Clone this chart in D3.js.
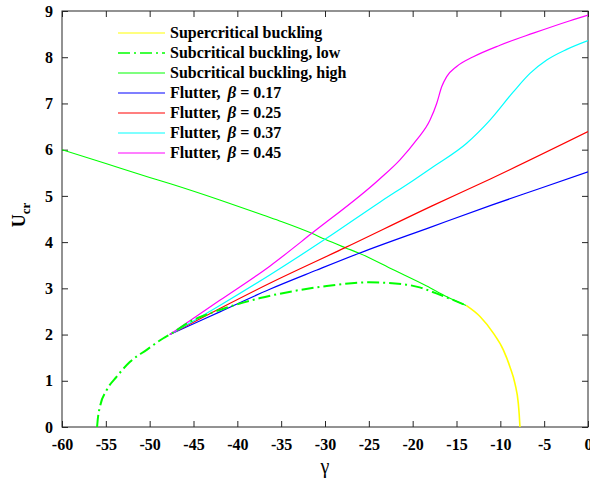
<!DOCTYPE html>
<html>
<head>
<meta charset="utf-8">
<script src="https://cdn.jsdelivr.net/npm/d3@7"></script>
<style>
    body { margin: 0; background: #fff; }
    svg text { font-family: 'Liberation Serif', 'Times New Roman', serif; font-weight: bold; fill: #000; }
    .axis path { display: none; }
    .axis line { stroke: #262626; }
</style>
</head>
<body>
<div id="chart"></div>
<script>
// gamma / U_cr pairs
let gamma_sup = [-13.9, -12.32, -10.8, -9.66, -8.9, -8.33, -7.95, -7.85, -7.76];
let u_sup     = [2.63, 2.39, 2.03, 1.67, 1.30, 0.94, 0.51, 0.28, 0];

let gamma_low = [-56, -55.9, -55.67, -54.9, -53.76, -52.24, -50.34, -48.44, -47.7, -45.4, -43.1, -40.1, -37.4, -33.6, -29.8, -25, -21.1, -19.2, -17.3, -15.4, -13.9];
let u_low     = [0, 0.2, 0.44, 0.80, 1.09, 1.41, 1.67, 1.92, 2.0, 2.28, 2.46, 2.65, 2.79, 2.94, 3.05, 3.13, 3.09, 3.02, 2.89, 2.75, 2.63];

let gamma_high = [-60, -55, -50, -47.45, -42, -37, -34.9, -31.5, -30, -27.7, -26.1, -22.2, -18.4, -16.1, -13.9];
let u_high     = [6.0, 5.70, 5.40, 5.25, 4.91, 4.58, 4.44, 4.19, 4.06, 3.88, 3.76, 3.40, 3.05, 2.82, 2.63];

let gamma_017 = [-47.7, -42, -36.3, -31, -26.1, -18, -11, -5.5, 0];
let u_017     = [2.0, 2.49, 2.98, 3.39, 3.76, 4.32, 4.80, 5.16, 5.52];

let gamma_025 = [-47.7, -36.3, -27.7, -17.6, -11.2, 0];
let u_025     = [2.0, 3.11, 3.88, 4.80, 5.36, 6.39];

let gamma_037 = [-47.7, -42, -36.3, -30, -23.7, -19.9, -17.65, -13.84, -11.18, -8.52, -6.62, -4.71, -2.43, 0];
let u_037     = [2.0, 2.63, 3.29, 4.06, 4.87, 5.34, 5.63, 6.14, 6.64, 7.25, 7.65, 7.94, 8.17, 8.36];

let gamma_045 = [-47.7, -42, -36.3, -31.5, -23.8, -21.45, -19.55, -18.02, -17.26, -16.69, -16.12, -14.98, -13.08, -10.04, -6.24, -2.05, 0];
let u_045     = [2.0, 2.74, 3.48, 4.19, 5.36, 5.78, 6.21, 6.64, 7.0, 7.36, 7.58, 7.80, 8.01, 8.26, 8.52, 8.79, 8.91];

let x_ticks = [-60, -55, -50, -45, -40, -35, -30, -25, -20, -15, -10, -5, 0];
let y_ticks = [0, 1, 2, 3, 4, 5, 6, 7, 8, 9];

let series = [
    {label: 'Supercritical buckling', color: '#ffff00', g: gamma_sup, u: u_sup, width: 1.6, dash: null},
    {label: 'Subcritical buckling, low', color: '#00ff00', g: gamma_low, u: u_low, width: 2, dash: '12,4,2,4'},
    {label: 'Subcritical buckling, high', color: '#00ff00', g: gamma_high, u: u_high, width: 1.1, dash: null},
    {label: 'Flutter,', beta: '0.17', color: '#0000ff', g: gamma_017, u: u_017, width: 1.2, dash: null},
    {label: 'Flutter,', beta: '0.25', color: '#ff0000', g: gamma_025, u: u_025, width: 1.2, dash: null},
    {label: 'Flutter,', beta: '0.37', color: '#00ffff', g: gamma_037, u: u_037, width: 1.2, dash: null},
    {label: 'Flutter,', beta: '0.45', color: '#ff00ff', g: gamma_045, u: u_045, width: 1.2, dash: null}
];

let serif = "'Liberation Serif', 'Times New Roman', serif";

let margin = {top: 11, right: 2, bottom: 56, left: 62},
    width = 590 - margin.left - margin.right,
    height = 483 - margin.top - margin.bottom;

let svg = d3.select('#chart').append('svg')
    .attr('width', 590)
    .attr('height', 483)
    .attr('font-family', serif)
    .append('g')
        .attr('transform', 'translate(' + margin.left + ',' + margin.top + ')');

let x = d3.scaleLinear().domain([-60, 0]).range([0, width]);
let y = d3.scaleLinear().domain([0, 9]).range([height, 0]);

// axes, ticks pointing inward on all four sides
svg.append('g')
    .attr('class', 'axis')
    .attr('transform', 'translate(0,' + height + ')')
    .call(d3.axisBottom(x).tickValues(x_ticks).tickSizeInner(-6).tickSizeOuter(0).tickPadding(12)
        .tickFormat(function(d) { return d === 0 ? '0' : '-' + Math.abs(d); }))
    .attr('font-family', serif)
    .attr('font-size', 16);

svg.append('g')
    .attr('class', 'axis')
    .call(d3.axisTop(x).tickValues(x_ticks).tickSizeInner(-6).tickSizeOuter(0).tickFormat(''));

svg.append('g')
    .attr('class', 'axis')
    .call(d3.axisLeft(y).tickValues(y_ticks).tickSizeInner(-6).tickSizeOuter(0).tickPadding(9))
    .attr('font-family', serif)
    .attr('font-size', 16);

svg.append('g')
    .attr('class', 'axis')
    .attr('transform', 'translate(' + width + ',0)')
    .call(d3.axisRight(y).tickValues(y_ticks).tickSizeInner(-6).tickSizeOuter(0).tickFormat(''));

svg.append('rect')
    .attr('width', width)
    .attr('height', height)
    .attr('fill', 'none')
    .attr('stroke', '#262626')
    .attr('stroke-width', 1);

// curves
svg.append('clipPath').attr('id', 'plot-clip')
    .append('rect').attr('width', width).attr('height', height);

let line = d3.line()
    .x(function(d) { return x(d[0]); })
    .y(function(d) { return y(d[1]); })
    .curve(d3.curveMonotoneX);

let draw_order = [2, 3, 4, 5, 6, 0, 1];
draw_order.forEach(function(i) {
    let s = series[i];
    let pts = d3.zip(s.g, s.u);
    svg.append('path')
        .attr('clip-path', 'url(#plot-clip)')
        .attr('d', line(pts))
        .attr('fill', 'none')
        .attr('stroke', s.color)
        .attr('stroke-width', s.width)
        .attr('stroke-dasharray', s.dash);
});

// legend
let legend = svg.append('g').attr('transform', 'translate(56,22)');
series.forEach(function(s, i) {
    let row = legend.append('g').attr('transform', 'translate(0,' + (i * 20) + ')');
    row.append('line')
        .attr('x1', 0).attr('x2', 47)
        .attr('y1', 0).attr('y2', 0)
        .attr('stroke', s.color)
        .attr('stroke-width', s.dash ? 1.6 : 1.2)
        .attr('stroke-dasharray', s.dash);
    let t = row.append('text')
        .attr('x', 52)
        .attr('y', 5)
        .attr('font-size', 16)
        .text(s.label);
    if (s.beta) {
        t.append('tspan').attr('dx', 7).attr('font-style', 'italic').attr('font-size', 17).text('\u03b2');
        t.append('tspan').text(' = ' + s.beta);
    }
});

// axis titles
svg.append('text')
    .attr('x', width / 2)
    .attr('y', height + 46)
    .attr('text-anchor', 'middle')
    .attr('font-size', 20)
    .style('font-weight', 'normal')
    .text('\u03b3');

let ylab = svg.append('text')
    .attr('transform', 'translate(-37,' + (height / 2 - 4) + ') rotate(-90)')
    .attr('text-anchor', 'middle')
    .attr('font-size', 18);
ylab.append('tspan').text('U');
ylab.append('tspan').attr('dy', 5).attr('font-size', 13).text('cr');
</script>
</body>
</html>
